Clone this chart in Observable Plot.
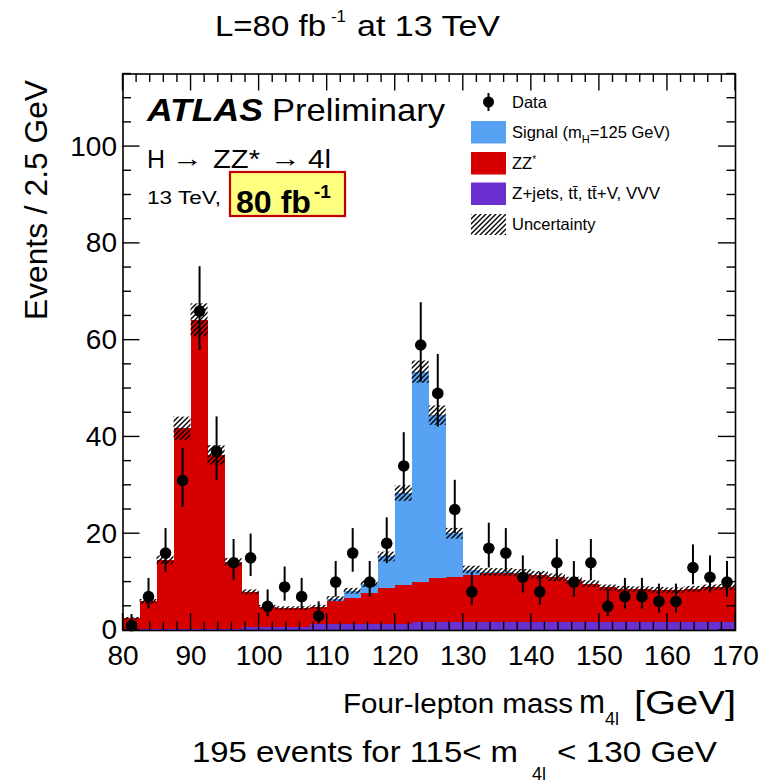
<!DOCTYPE html>
<html>
<head>
<meta charset="utf-8">
<script src="https://cdn.jsdelivr.net/npm/d3@7"></script>
<script src="https://cdn.jsdelivr.net/npm/@observablehq/plot@0.6"></script>
<style>
  html, body { margin: 0; padding: 0; background: #ffffff; }
  #chart { width: 784px; height: 784px; }
</style>
</head>
<body>
<div id="chart"></div>
<script>
// ---- Data (bins of 2.5 GeV, 80-170 GeV) ----
const massBins = [81.25, 83.75, 86.25, 88.75, 91.25, 93.75, 96.25, 98.75, 101.25, 103.75,
  106.25, 108.75, 111.25, 113.75, 116.25, 118.75, 121.25, 123.75, 126.25, 128.75,
  131.25, 133.75, 136.25, 138.75, 141.25, 143.75, 146.25, 148.75, 151.25, 153.75,
  156.25, 158.75, 161.25, 163.75, 166.25, 168.75];
const binWidth = 2.5;

const dataCounts = [1, 7, 16, 31, 66, 37, 14, 15, 5, 9,
  7, 3, 10, 16, 10, 18, 34, 59, 49, 25,
  8, 17, 16, 11, 8, 14, 10, 14, 5, 7,
  7, 6, 6, 13, 11, 10];
const dataErrLow = [0.83, 2.58, 3.96, 5.54, 8.11, 6.06, 3.70, 3.83, 2.16, 2.94,
  2.58, 1.63, 3.11, 3.96, 3.11, 4.20, 5.81, 7.67, 6.98, 4.96,
  2.77, 4.08, 3.96, 3.27, 2.77, 3.70, 3.11, 3.70, 2.16, 2.58,
  2.58, 2.38, 2.38, 3.56, 3.27, 3.11];
const dataErrHigh = [2.30, 3.77, 5.06, 6.62, 9.18, 7.14, 4.81, 4.93, 3.38, 4.11,
  3.77, 2.92, 4.26, 5.06, 4.26, 5.29, 6.88, 8.74, 8.05, 6.04,
  3.95, 5.17, 5.06, 4.41, 3.95, 4.81, 4.26, 4.81, 3.38, 3.77,
  3.77, 3.58, 3.58, 4.68, 4.41, 4.26];

// Z+jets, tt, ttV, VVV (purple)
const zjetsYield = [0.3, 0.3, 0.3, 0.3, 0.3, 0.3, 0.3, 0.7, 0.7, 0.7,
  0.7, 1.3, 1.3, 1.3, 1.3, 1.3, 1.3, 1.6, 1.6, 1.6,
  1.6, 1.6, 1.6, 1.6, 1.6, 1.6, 1.6, 1.6, 1.6, 1.6,
  1.6, 1.6, 1.6, 1.6, 1.6, 1.6];
// ZZ* (red)
const zzYield = [2.1, 5.6, 14.2, 41.4, 63.8, 35.9, 13.8, 7.2, 4.1, 3.8,
  3.8, 3.5, 4.6, 5.3, 6.3, 7.3, 8.0, 8.4, 9.1, 9.4,
  9.8, 10.1, 10.2, 10.0, 9.7, 9.3, 8.7, 8.0, 7.2, 6.9,
  6.8, 6.7, 6.6, 6.9, 7.2, 7.3];
// Signal mH = 125 GeV (blue)
const signalYield = [0, 0, 0, 0, 0, 0, 0, 0, 0, 0,
  0, 0, 0.6, 1.5, 2.0, 6.6, 19.0, 43.4, 33.7, 9.0,
  1.1, 0.3, 0.2, 0.2, 0.1, 0, 0, 0, 0, 0,
  0, 0, 0, 0, 0, 0];
// Half-width of the hatched uncertainty band
const systUnc = [0.3, 0.5, 0.9, 2.4, 3.4, 2.0, 0.8, 0.5, 0.4, 0.4,
  0.4, 0.4, 0.5, 0.6, 0.7, 1.0, 1.6, 2.3, 2.0, 1.1,
  0.8, 0.8, 0.8, 0.8, 0.8, 0.8, 0.7, 0.7, 0.6, 0.6,
  0.6, 0.6, 0.6, 0.6, 0.6, 0.6];

const xTickValues = [80, 90, 100, 110, 120, 130, 140, 150, 160, 170];
const yTickValues = [0, 20, 40, 60, 80, 100];
const componentNames = ["zjets", "zz", "signal"];
const componentColors = ["#6a2fcf", "#d60000", "#58a2f4"];
const legendLabels = ["Data", "Signal", "ZZ*", "Z+jets", "Uncertainty"];

(function () {
// ---- Build tables ----
const stackRows = [];
const bandRows = [];
const points = [];
massBins.forEach((m, i) => {
  const x1 = m - binWidth / 2, x2 = m + binWidth / 2;
  let base = 0;
  [zjetsYield[i], zzYield[i], signalYield[i]].forEach((v, k) => {
    stackRows.push({x1, x2, y1: base, y2: base + v, comp: componentNames[k]});
    base += v;
  });
  bandRows.push({x1, x2, y1: base - systUnc[i], y2: base + systUnc[i]});
  points.push({m, n: dataCounts[i], lo: dataCounts[i] - dataErrLow[i], hi: dataCounts[i] + dataErrHigh[i]});
});

const FONT = "'Liberation Sans', Arial, Helvetica, sans-serif";

const chart = Plot.plot({
  width: 784,
  height: 784,
  marginLeft: 122.5,
  marginRight: 49,
  marginTop: 73.5,
  marginBottom: 154,
  x: {domain: [80, 170]},
  y: {domain: [0, 115]},
  color: {domain: componentNames, range: componentColors},
  style: {fontFamily: FONT, background: "#ffffff", color: "#000"},
  marks: [
    Plot.rect(stackRows, {x1: "x1", x2: "x2", y1: "y1", y2: "y2", fill: "comp", shapeRendering: "crispEdges"}),
    Plot.rect(bandRows, {x1: "x1", x2: "x2", y1: "y1", y2: "y2", fill: "url(#hatch)"}),
    Plot.ruleX(points, {x: "m", y1: "lo", y2: "hi", stroke: "#000", strokeWidth: 2}),
    Plot.dot(points, {x: "m", y: "n", r: 5.8, fill: "#000"}),
    Plot.axisX({ticks: xTickValues, tickSize: 0, tickPadding: 15, fontSize: 28, label: null, tickFormat: d => String(d)}),
    Plot.axisY({ticks: yTickValues, tickSize: 0, tickPadding: 6, fontSize: 28, label: null, tickFormat: d => String(d)}),
    Plot.frame({stroke: "#000", strokeWidth: 1.6})
  ]
});

document.getElementById("chart").appendChild(chart);

const svg = d3.select(chart);
const xs = chart.scale("x"), ys = chart.scale("y");
const X = v => xs.apply(v), Y = v => ys.apply(v);
const leftPx = X(80), rightPx = X(170), bottomPx = Y(0), topPx = Y(115);

// hatch pattern
const defs = svg.insert("defs", ":first-child");
defs.append("pattern")
  .attr("id", "hatch").attr("patternUnits", "userSpaceOnUse")
  .attr("width", 5).attr("height", 5)
  .append("path")
  .attr("d", "M-1,1 L1,-1 M0,5 L5,0 M4,6 L6,4")
  .attr("stroke", "#000").attr("stroke-width", 1.4);

// inward ticks on all four sides
const tk = svg.append("g").attr("stroke", "#000").attr("stroke-width", 1.4);
d3.range(80, 170.01, 2).forEach(v => {
  const len = v % 10 === 0 ? 17 : 8.5;
  tk.append("line").attr("x1", X(v)).attr("x2", X(v)).attr("y1", bottomPx).attr("y2", bottomPx - len);
  tk.append("line").attr("x1", X(v)).attr("x2", X(v)).attr("y1", topPx).attr("y2", topPx + len);
});
d3.range(0, 115.01, 5).forEach(v => {
  const len = v % 20 === 0 ? 17 : 8.5;
  tk.append("line").attr("x1", leftPx).attr("x2", leftPx + len).attr("y1", Y(v)).attr("y2", Y(v));
  tk.append("line").attr("x1", rightPx).attr("x2", rightPx - len).attr("y1", Y(v)).attr("y2", Y(v));
});

const txt = (x, y, size, str, opts = {}) => {
  const t = svg.append("text").attr("x", x).attr("y", y)
    .attr("font-family", FONT).attr("font-size", size).attr("fill", "#000")
    .attr("text-anchor", opts.anchor || "start").text(str);
  if (opts.weight) t.attr("font-weight", opts.weight);
  if (opts.style) t.attr("font-style", opts.style);
  if (opts.len) t.attr("textLength", opts.len).attr("lengthAdjust", "spacingAndGlyphs");
  return t;
};

// top title
txt(215, 36, 30, "L=80 fb", {len: 111});
txt(331, 22, 17, "-1", {len: 15});
txt(357, 36, 30, "at 13 TeV", {len: 143});

// y axis title
svg.append("text")
  .attr("transform", "translate(47,320) rotate(-90)")
  .attr("text-anchor", "start")
  .attr("font-family", FONT).attr("font-size", 31).attr("fill", "#000")
  .attr("textLength", 240).attr("lengthAdjust", "spacingAndGlyphs")
  .text("Events / 2.5 GeV");

// x axis title
txt(343, 713, 27, "Four-lepton mass", {len: 230});
txt(579, 713, 33, "m", {len: 26});
txt(605, 725, 18, "4l");
txt(736, 714, 33, "[GeV]", {anchor: "end", len: 102});

// bottom caption
txt(192, 762, 29, "195 events for 115< m", {len: 326});
txt(532, 780, 18, "4l");
txt(557, 762, 29, "< 130 GeV", {len: 160});

// ATLAS label
txt(147, 121, 32, "ATLAS", {weight: "bold", style: "italic", len: 116});
txt(272, 121, 32, "Preliminary", {len: 173});
txt(147, 168, 25, "H", {len: 18});
txt(172, 167, 25, "\u2192", {len: 31});
txt(213, 168, 25, "ZZ*", {len: 47});
txt(270, 167, 25, "\u2192", {len: 31});
txt(308, 168, 25, "4l", {len: 23});
txt(147, 204, 18, "13 TeV,", {len: 74});
svg.append("rect").attr("x", 230).attr("y", 172).attr("width", 115).attr("height", 44)
  .attr("fill", "#ffff80").attr("stroke", "#c00000").attr("stroke-width", 2.2);
txt(236, 213, 31, "80 fb", {weight: "bold", len: 75});
txt(314, 198, 19, "-1", {weight: "bold"});

// legend
const lg = svg.append("g");
const lx = 471, lw = 35, lh = 22.5, tx = 512;
lg.append("line").attr("x1", 488.5).attr("x2", 488.5).attr("y1", 93).attr("y2", 111).attr("stroke", "#000").attr("stroke-width", 2);
lg.append("circle").attr("cx", 488.5).attr("cy", 102).attr("r", 5.5).attr("fill", "#000");
txt(tx, 108, 16.5, legendLabels[0]);
const rowsY = [121, 152, 182.5];
const rowColors = [componentColors[2], componentColors[1], componentColors[0]];
rowsY.forEach((yy, i) => {
  lg.append("rect").attr("x", lx).attr("y", yy).attr("width", lw).attr("height", lh).attr("fill", rowColors[i]);
});
const sig = txt(tx, 138, 16.5, "Signal (m");
sig.append("tspan").attr("font-size", 11).attr("dy", 5).text("H");
sig.append("tspan").attr("dy", -5).text("=125 GeV)");
const zzT = txt(tx, 169, 16.5, "ZZ");
zzT.append("tspan").attr("font-size", 10).attr("dy", -6).text("*");
txt(tx, 199, 16.5, "Z+jets, tt\u0304, tt\u0304+V, VVV", {len: 148});
lg.append("rect").attr("x", lx).attr("y", 214).attr("width", lw).attr("height", 21).attr("fill", "url(#hatch)");
txt(tx, 230, 16.5, legendLabels[4]);
})();
</script>
</body>
</html>
